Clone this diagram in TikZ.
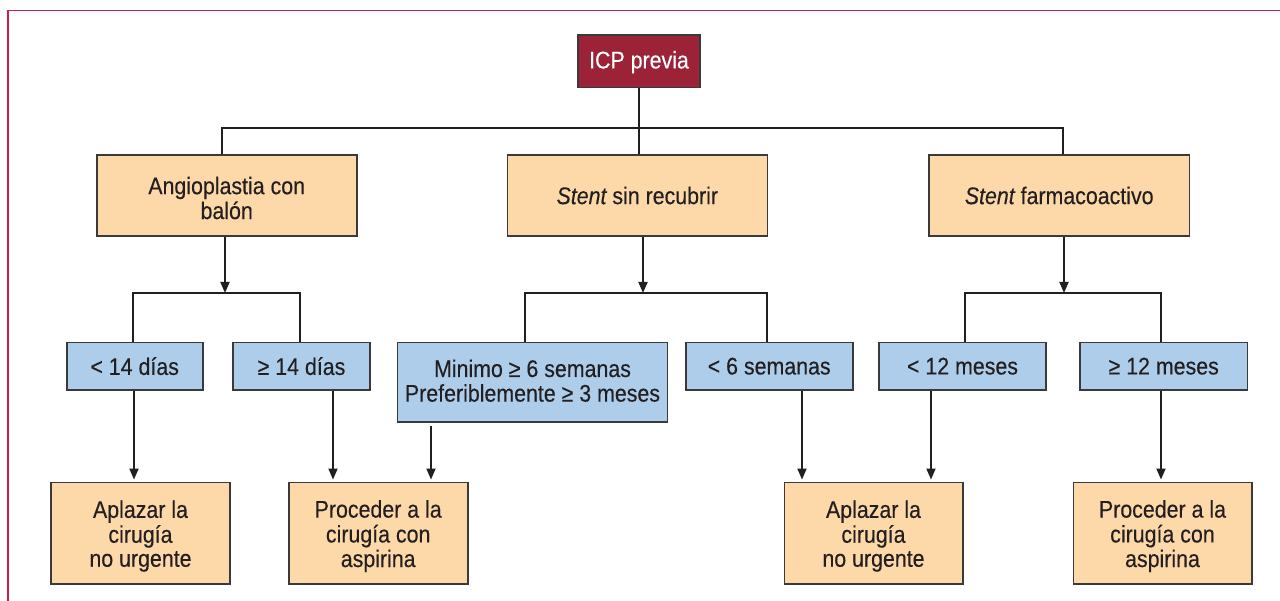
\documentclass[tikz,border=0pt]{standalone}
\usepackage{fontspec}
\setmainfont{Liberation Sans}[FakeStretch=0.89, FakeBold=0.3]
\usetikzlibrary{arrows.meta}
\definecolor{peach}{HTML}{FDD9A9}
\definecolor{skyb}{HTML}{AECDEB}
\definecolor{wine}{HTML}{9B2237}
\definecolor{frame}{HTML}{C8204A}
\definecolor{ink}{HTML}{231F20}
\definecolor{edge}{HTML}{3A3A3A}
% #1: how far the text is set below the node centre
\newcommand{\lines}[2][0pt]{\raisebox{0pt}[\dimexpr\height+#1*2\relax][\depth]{\begin{tabular}{@{}c@{}}#2\end{tabular}}}
\tikzset{
  box/.style={draw=edge, line width=1.6pt, text=ink, align=center, inner sep=0pt,
    font=\fontsize{24}{24}\selectfont},
  obox/.style={box, fill=peach},
  bbox/.style={box, fill=skyb},
  tbox/.style={box, fill=wine, text=white},
  con/.style={draw=ink, line width=1.8pt},
  arr/.style={con, -{Triangle[length=11pt,width=9pt]}},
}
\begin{document}
\begin{tikzpicture}[x=1pt,y=-1pt]
\useasboundingbox (0,0) rectangle (1280,601);
\draw[frame, line width=1.5pt] (8,601) -- (8,10.3) -- (1280,10.3);

\node[tbox, minimum width=121.7pt, minimum height=52.7pt] (icp) at (639,61.3) {\lines[2pt]{ICP previa}};

\node[obox, minimum width=260pt, minimum height=81pt] (ang) at (226.7,195.5) {\lines[6pt]{Angioplastia con\\balón}};
\node[obox, minimum width=260pt, minimum height=81pt] (sin) at (637.3,195.5) {\itshape Stent\upshape\ sin recubrir};
\node[obox, minimum width=260.3pt, minimum height=81pt] (far) at (1059.2,195.5) {\itshape Stent\upshape\ farmacoactivo};

\node[bbox, minimum width=136pt, minimum height=47.7pt] (lt14) at (134.7,366.2) {< 14 días};
\node[bbox, minimum width=137pt, minimum height=47.7pt] (ge14) at (301.5,366.2) {≥ 14 días};
\node[bbox, minimum width=270.3pt, minimum height=79.7pt] (min) at (532.5,382.2) {\lines[2pt]{Minimo ≥ 6 semanas\\Preferiblemente ≥ 3 meses}};
\node[bbox, minimum width=167pt, minimum height=47.7pt] (lt6) at (769.2,366.2) {< 6 semanas};
\node[bbox, minimum width=167pt, minimum height=47.7pt] (lt12) at (962.5,366.2) {< 12 meses};
\node[bbox, minimum width=167.3pt, minimum height=47.7pt] (ge12) at (1163.7,366.2) {≥ 12 meses};

\tikzset{tri/.style={obox, minimum width=179pt, minimum height=101.7pt}}
\node[tri] (apl1) at (140.5,533.2) {\lines[4pt]{Aplazar la\\cirugía\\no urgente}};
\node[tri] (pro1) at (378.2,533.2) {\lines[4pt]{Proceder a la\\cirugía con\\aspirina}};
\node[tri, minimum width=178.4pt] (apl2) at (873.5,533.2) {\lines[4pt]{Aplazar la\\cirugía\\no urgente}};
\node[tri, minimum width=178.4pt] (pro2) at (1162.5,533.2) {\lines[4pt]{Proceder a la\\cirugía con\\aspirina}};

% top level
\coordinate (tA) at (222,128);
\coordinate (tC) at (1063,128);
\draw[con] (icp.south) -- (icp.south |- sin.north);
\draw[con] (tA |- ang.north) -- (tA) -- (tC) -- (tC |- far.north);

% branch A
\coordinate (jA) at (225,293);
\coordinate (jAl) at (133,293);
\coordinate (jAr) at (300,293);
\draw[arr] (ang.south -| jA) -- (jA);
\draw[con] (jAl |- lt14.north) -- (jAl) -- (jAr) -- (jAr |- ge14.north);

% branch B
\coordinate (jB) at (643,293);
\coordinate (jBl) at (525,293);
\coordinate (jBr) at (767,293);
\draw[arr] (sin.south -| jB) -- (jB);
\draw[con] (jBl |- min.north) -- (jBl) -- (jBr) -- (jBr |- lt6.north);

% branch C
\coordinate (jC) at (1064,293);
\coordinate (jCl) at (965,293);
\coordinate (jCr) at (1161,293);
\draw[arr] (far.south -| jC) -- (jC);
\draw[con] (jCl |- lt12.north) -- (jCl) -- (jCr) -- (jCr |- ge12.north);

% down arrows
\coordinate (d1) at (134,0);
\coordinate (d2) at (333,0);
\coordinate (d3) at (431,0);
\coordinate (d4) at (802,0);
\coordinate (d5) at (931,0);
\coordinate (d6) at (1161,0);
\draw[arr, shorten >=2pt] (lt14.south -| d1) -- (apl1.north -| d1);
\draw[arr, shorten >=2pt] (ge14.south -| d2) -- (pro1.north -| d2);
\draw[arr, shorten >=2pt, shorten <=3pt] (min.south -| d3) -- (pro1.north -| d3);
\draw[arr, shorten >=2pt] (lt6.south -| d4) -- (apl2.north -| d4);
\draw[arr, shorten >=2pt] (lt12.south -| d5) -- (apl2.north -| d5);
\draw[arr, shorten >=2pt] (ge12.south -| d6) -- (pro2.north -| d6);
\end{tikzpicture}
\end{document}
